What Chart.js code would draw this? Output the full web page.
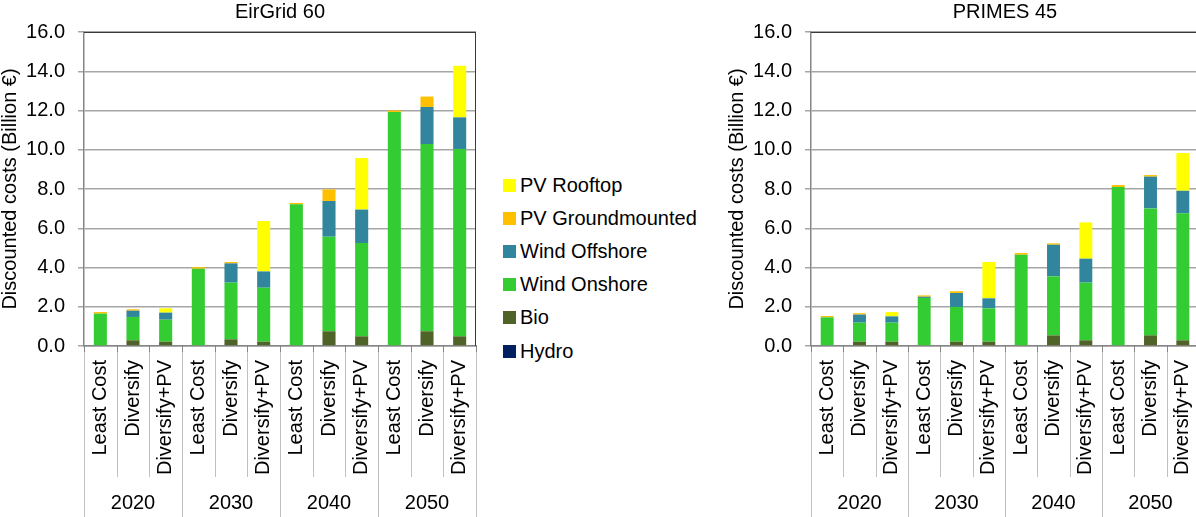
<!DOCTYPE html>
<html>
<head>
<meta charset="utf-8">
<script src="https://cdn.jsdelivr.net/npm/chart.js@4/dist/chart.umd.min.js"></script>
<style>
  html, body { margin: 0; padding: 0; background: #fff; overflow: hidden; width: 1196px; height: 517px; }
  #left { position: absolute; left: 0; top: 0; }
  #right { position: absolute; left: 700px; top: 0; }
  #legend { position: absolute; left: 503px; top: 0; font: 20px "Liberation Sans", Arial, sans-serif; color: #000; }
  .item { position: absolute; left: 0; height: 24px; white-space: nowrap; display: flex; align-items: center; }
  .sw { width: 13px; height: 13px; margin-right: 4px; flex: none; }
</style>
</head>
<body>
<canvas id="left" width="490" height="517"></canvas>
<div id="legend"></div>
<canvas id="right" width="499" height="517"></canvas>
<script>
// Scenario and year groups on the x axis
const years = ['2020', '2030', '2040', '2050'];
const scenarios = ['Least Cost', 'Diversify', 'Diversify+PV'];
const yTicks = [0, 2, 4, 6, 8, 10, 12, 14, 16];

// Technologies, bottom of the stack first
const seriesNames = ['Hydro', 'Bio', 'Wind Onshore', 'Wind Offshore', 'PV Groundmounted', 'PV Rooftop'];
const seriesColors = ['#002060', '#4F6228', '#33CC33', '#31859C', '#FFC000', '#FFFF00'];

// EirGrid 60 – discounted costs (billion €)
const eirHydro    = [0, 0, 0, 0, 0, 0, 0, 0, 0, 0, 0, 0];
const eirBio      = [0, 0.29, 0.22, 0, 0.34, 0.22, 0, 0.75, 0.49, 0, 0.75, 0.49];
const eirOnshore  = [1.65, 1.19, 1.12, 3.94, 2.89, 2.75, 7.22, 4.82, 4.76, 11.92, 9.54, 9.55];
const eirOffshore = [0, 0.32, 0.36, 0, 0.98, 0.83, 0, 1.82, 1.70, 0, 1.89, 1.61];
const eirPvGround = [0.08, 0.07, 0, 0.08, 0.07, 0, 0.07, 0.59, 0, 0.08, 0.53, 0];
const eirPvRoof   = [0, 0, 0.22, 0, 0, 2.57, 0, 0, 2.63, 0, 0, 2.63];

// PRIMES 45 – discounted costs (billion €)
const priHydro    = [0, 0, 0, 0, 0, 0, 0, 0, 0, 0, 0, 0];
const priBio      = [0, 0.22, 0.22, 0, 0.22, 0.22, 0, 0.54, 0.29, 0, 0.54, 0.29];
const priOnshore  = [1.46, 0.97, 0.97, 2.45, 1.77, 1.70, 4.65, 3.01, 2.94, 8.10, 6.47, 6.47];
const priOffshore = [0, 0.41, 0.32, 0.06, 0.71, 0.51, 0, 1.61, 1.22, 0, 1.62, 1.15];
const priPvGround = [0.07, 0.07, 0, 0.07, 0.09, 0, 0.09, 0.07, 0, 0.10, 0.08, 0];
const priPvRoof   = [0, 0, 0.22, 0, 0, 1.85, 0, 0, 1.85, 0, 0, 1.92];

const FONT = '"Liberation Sans", Arial, sans-serif';
Chart.defaults.font.family = FONT;
Chart.defaults.color = '#000';

const categories = [];
years.forEach(() => scenarios.forEach(s => categories.push(s)));

// Title, plot frame, group separators and year labels under the axis
const groupAxis = {
  id: 'groupAxis',
  afterDraw(chart, args, opts) {
    const { ctx, chartArea: a, scales: { x } } = chart;
    ctx.save();
    ctx.font = '20px ' + FONT;
    ctx.fillStyle = '#000';
    ctx.textAlign = 'center';
    ctx.textBaseline = 'middle';
    ctx.fillText(opts.title, (a.left + a.right) / 2, 12);

    ctx.lineWidth = 1;
    ctx.strokeStyle = '#3a3a3a';
    ctx.beginPath();
    ctx.moveTo(a.left, Math.round(a.top) + 0.5);
    ctx.lineTo(a.right, Math.round(a.top) + 0.5);
    ctx.moveTo(Math.round(a.right) - 0.5, a.top);
    ctx.lineTo(Math.round(a.right) - 0.5, a.bottom);
    ctx.stroke();

    const n = chart.data.labels.length;
    const per = scenarios.length;
    for (let i = 0; i <= n; i++) {
      const px = Math.round(x.getPixelForValue(i - 0.5)) + 0.5;
      const end = i % per === 0 ? chart.height : 477;
      ctx.strokeStyle = '#c0c0c0';
      ctx.beginPath();
      ctx.moveTo(px, a.bottom);
      ctx.lineTo(px, end);
      ctx.stroke();
      ctx.strokeStyle = '#868686';
      ctx.beginPath();
      ctx.moveTo(px, a.bottom);
      ctx.lineTo(px, a.bottom + 6);
      ctx.stroke();
    }

    years.forEach((yr, g) => {
      const cx = x.getPixelForValue(g * per + (per - 1) / 2);
      ctx.fillText(yr, cx, 503);
    });
    ctx.restore();
  }
};

function makeDatasets(values) {
  return seriesNames.map((name, i) => ({
    label: name,
    data: values[i],
    backgroundColor: seriesColors[i],
    borderWidth: 0,
    barPercentage: 0.4,
    categoryPercentage: 1.0
  }));
}

function makeChart(id, title, values, yWidth, titlePadTop, rightPad) {
  return new Chart(document.getElementById(id), {
    type: 'bar',
    data: { labels: categories, datasets: makeDatasets(values) },
    options: {
      responsive: false,
      animation: false,
      layout: { padding: { top: 32, right: rightPad, bottom: 0, left: 0 } },
      plugins: {
        legend: { display: false },
        tooltip: { enabled: false },
        groupAxis: { title: title }
      },
      scales: {
        x: {
          stacked: true,
          ticks: {
            minRotation: 90, maxRotation: 90, autoSkip: false, padding: 14,
            color: '#000', font: { size: 20 }
          },
          grid: { display: true, drawOnChartArea: false, drawTicks: false },
          border: { color: '#868686', width: 1.5 },
          afterFit(s) { s.height = 171; s.paddingLeft = 0; s.paddingRight = 0; }
        },
        y: {
          stacked: true,
          min: yTicks[0],
          max: yTicks[yTicks.length - 1],
          afterBuildTicks(s) { s.ticks = yTicks.map(v => ({ value: v })); },
          ticks: {
            padding: 13, color: '#000', font: { size: 20 },
            callback: v => Number(v).toFixed(1)
          },
          grid: { color: '#a6a6a6', lineWidth: 1.5, tickLength: 6 },
          border: { color: '#868686', width: 1.5 },
          title: {
            display: true, text: 'Discounted costs (Billion €)', color: '#000',
            font: { size: 20, lineHeight: 1 }, padding: { top: titlePadTop, bottom: 0 }
          },
          afterFit(s) { s.width = yWidth; }
        }
      }
    },
    plugins: [groupAxis]
  });
}

makeChart('left', 'EirGrid 60',
  [eirHydro, eirBio, eirOnshore, eirOffshore, eirPvGround, eirPvRoof], 84, 0.5, 14);
makeChart('right', 'PRIMES 45',
  [priHydro, priBio, priOnshore, priOffshore, priPvGround, priPvRoof], 111, 27, 0);

// Legend between the two panels, top of the stack listed first
const legend = document.getElementById('legend');
seriesNames.slice().reverse().forEach((name, k) => {
  const idx = seriesNames.indexOf(name);
  const item = document.createElement('div');
  item.className = 'item';
  item.style.top = (185 + 33.2 * k - 12) + 'px';
  const sw = document.createElement('span');
  sw.className = 'sw';
  sw.style.background = seriesColors[idx];
  const txt = document.createElement('span');
  txt.textContent = name;
  item.appendChild(sw);
  item.appendChild(txt);
  legend.appendChild(item);
});
</script>
</body>
</html>
